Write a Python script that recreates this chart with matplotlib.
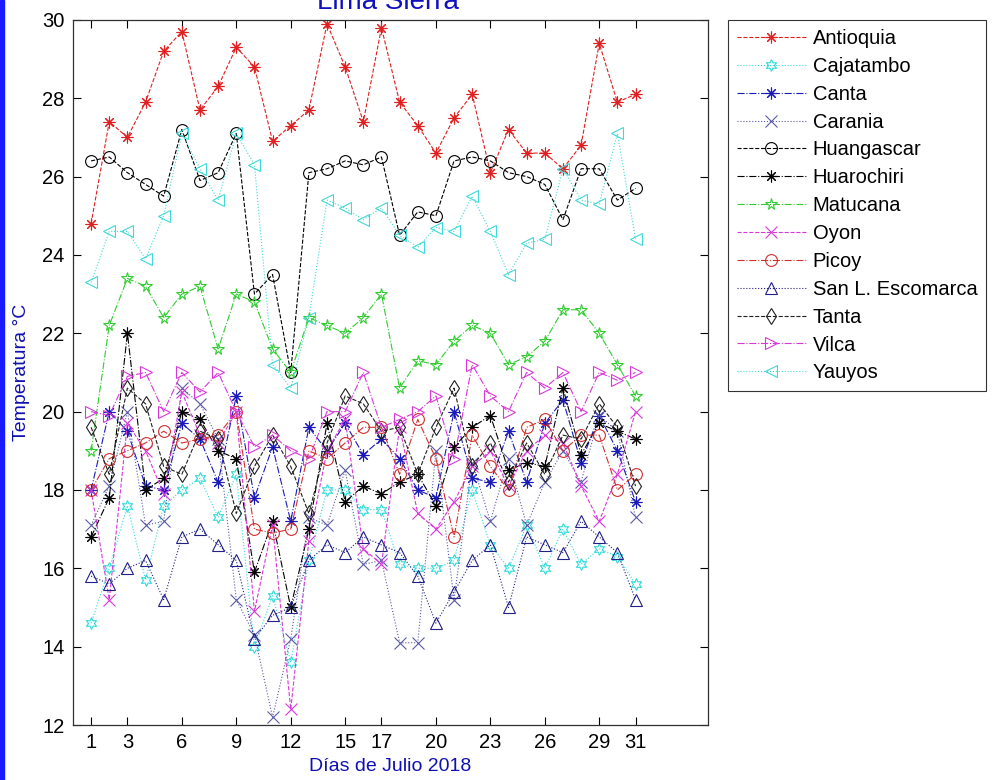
import numpy as np
import matplotlib
matplotlib.use("Agg")
import matplotlib.pyplot as plt
from matplotlib.patches import Rectangle

plt.rcParams['font.family'] = ['Liberation Sans', 'DejaVu Sans']

# Data
days = list(range(1, 32))
xticks = [1, 3, 6, 9, 12, 15, 17, 20, 23, 26, 29, 31]

antioquia = [24.8, 27.4, 27.0, 27.9, 29.2, 29.7, 27.7, 28.3, 29.3, 28.8, 26.9, 27.3, 27.7, 29.9, 28.8, 27.4,
             29.8, 27.9, 27.3, 26.6, 27.5, 28.1, 26.1, 27.2, 26.6, 26.6, 26.2, 26.8, 29.4, 27.9, 28.1]
cajatambo = [14.6, 16.0, 17.6, 15.7, 17.6, 18.0, 18.3, 17.3, 18.4, 14.0, 15.3, 13.6, 16.2, 18.0, 18.0, 17.5,
             17.5, 16.1, 16.0, 16.0, 16.2, 18.0, 16.6, 16.0, 17.1, 16.0, 17.0, 16.1, 16.5, 16.3, 15.6]
canta = [18.0, 20.0, 19.5, 18.1, 18.0, 19.7, 19.3, 18.2, 20.4, 17.8, 19.1, 17.2, 19.6, 19.0, 19.7, 18.9,
         19.3, 18.8, 18.0, 17.8, 20.0, 18.3, 18.2, 19.5, 18.2, 19.7, 20.3, 18.7, 19.9, 19.0, 17.7]
carania = [17.1, 18.1, 20.0, 17.1, 17.2, 20.6, 20.2, 19.3, 15.2, 14.3, 12.2, 14.2, 17.3, 17.1, 18.5, 16.1,
           16.2, 14.1, 14.1, 19.0, 15.2, 18.7, 17.2, 18.8, 17.1, 18.2, 19.0, 18.2, 19.9, 19.5, 17.3]
huangascar = [26.4, 26.5, 26.1, 25.8, 25.5, 27.2, 25.9, 26.1, 27.1, 23.0, 23.5, 21.0, 26.1, 26.2, 26.4, 26.3,
              26.5, 24.5, 25.1, 25.0, 26.4, 26.5, 26.4, 26.1, 26.0, 25.8, 24.9, 26.2, 26.2, 25.4, 25.7]
huarochiri = [16.8, 17.8, 22.0, 18.0, 18.3, 20.0, 19.8, 19.0, 18.8, 15.9, 17.2, 15.0, 17.0, 19.7, 17.7, 18.1,
              17.9, 18.2, 18.4, 17.6, 19.1, 19.6, 19.9, 18.5, 18.7, 18.6, 20.6, 18.9, 19.7, 19.5, 19.3]
matucana = [19.0, 22.2, 23.4, 23.2, 22.4, 23.0, 23.2, 21.6, 23.0, 22.8, 21.6, 21.0, 22.4, 22.2, 22.0, 22.4,
            23.0, 20.6, 21.3, 21.2, 21.8, 22.2, 22.0, 21.2, 21.4, 21.8, 22.6, 22.6, 22.0, 21.2, 20.4]
oyon = [18.0, 15.2, 19.7, 19.0, 17.9, 20.5, 19.4, 19.2, 20.0, 14.9, 17.1, 12.4, 16.7, 19.0, 19.8, 16.5,
        16.1, 19.6, 17.4, 17.0, 17.7, 18.6, 19.0, 18.1, 19.0, 19.4, 19.2, 18.1, 17.2, 18.4, 20.0]
picoy = [18.0, 18.8, 19.0, 19.2, 19.5, 19.2, 19.3, 19.4, 20.0, 17.0, 16.9, 17.0, 19.0, 18.8, 19.2, 19.6,
         19.6, 18.4, 19.8, 18.8, 16.8, 19.4, 18.6, 18.0, 19.6, 19.8, 19.0, 19.4, 19.4, 18.0, 18.4]
escomarca = [15.8, 15.6, 16.0, 16.2, 15.2, 16.8, 17.0, 16.6, 16.2, 14.2, 14.8, 15.0, 16.2, 16.6, 16.4, 16.8,
             16.6, 16.4, 15.8, 14.6, 15.4, 16.2, 16.6, 15.0, 16.8, 16.6, 16.4, 17.2, 16.8, 16.4, 15.2]
tanta = [19.6, 18.4, 20.6, 20.2, 18.6, 18.4, 19.5, 19.3, 17.4, 18.6, 19.4, 18.6, 17.4, 19.2, 20.4, 20.2,
         19.5, 19.6, 18.4, 19.6, 20.6, 18.6, 19.2, 18.2, 19.2, 18.4, 19.4, 19.3, 20.2, 19.6, 18.1]
vilca = [20.0, 19.9, 20.9, 21.0, 20.0, 21.0, 20.5, 21.0, 20.0, 19.1, 19.4, 19.0, 18.8, 20.0, 20.0, 21.0,
         19.6, 19.8, 20.0, 20.4, 18.8, 21.2, 20.4, 20.0, 21.0, 20.6, 21.0, 20.0, 21.0, 20.8, 21.0]
yauyos = [23.3, 24.6, 24.6, 23.9, 25.0, 27.1, 26.2, 25.4, 27.1, 26.3, 21.2, 20.6, 22.4, 25.4, 25.2, 24.9,
          25.2, 24.5, 24.2, 24.7, 24.6, 25.5, 24.6, 23.5, 24.3, 24.4, 26.2, 25.4, 25.3, 27.1, 24.4]

asterisk = (8, 2, 0)
hexagram = (6, 1, 0)

series = [
    ('Antioquia', antioquia, '#e02020', '--', asterisk),
    ('Cajatambo', cajatambo, '#30dada', ':', hexagram),
    ('Canta', canta, '#1a1ab8', '-.', asterisk),
    ('Carania', carania, '#5a5aa8', ':', 'x'),
    ('Huangascar', huangascar, '#000000', '--', 'o'),
    ('Huarochiri', huarochiri, '#000000', '-.', asterisk),
    ('Matucana', matucana, '#30cc30', '-.', '*'),
    ('Oyon', oyon, '#d838d8', '--', 'x'),
    ('Picoy', picoy, '#d03030', '-.', 'o'),
    ('San L. Escomarca', escomarca, '#202088', ':', '^'),
    ('Tanta', tanta, '#202020', '--', 'd'),
    ('Vilca', vilca, '#d838d8', '-.', '>'),
    ('Yauyos', yauyos, '#40d8d8', ':', '<'),
]

fig = plt.figure(figsize=(9.94, 7.8), dpi=100)
ax = fig.add_axes([0.0734, 0.0705, 0.639, 0.904])

for name, vals, col, ls, mk in series:
    ax.plot(days, vals, color=col, linestyle=ls, linewidth=0.8, marker=mk,
            markersize=8.5, markerfacecolor='none', markeredgecolor=col,
            markeredgewidth=0.8, label=name)

ax.set_xlim(0, 35)
ax.set_ylim(12, 30)
ax.set_xticks(xticks)
ax.set_yticks(np.arange(12, 31, 2))
ax.tick_params(direction='in', top=True, right=True, labelsize=14.5, length=6, width=0.8, pad=6)
for s in ax.spines.values():
    s.set_linewidth(0.9)
    s.set_color('#303030')

ax.set_xlabel('Días de Julio 2018', color='#1010b0', fontsize=14, labelpad=4)
ax.set_ylabel('Temperatura °C', color='#1010b0', fontsize=14, labelpad=9)

fig.text(0.390, 0.989, 'Lima Sierra', color='#1010c0', fontsize=20,
         ha='center', va='baseline')

leg = fig.legend(loc='upper left', bbox_to_anchor=(0.7324, 0.9744), fontsize=14.5,
                 frameon=True, fancybox=False, handlelength=3.4, labelspacing=0.44,
                 borderpad=0.45, handletextpad=0.35, borderaxespad=0)
leg.get_frame().set_edgecolor('black')
leg.get_frame().set_linewidth(0.8)

fig.patches.append(Rectangle((0, 0), 0.004, 1, transform=fig.transFigure,
                             color='#1a1aff', zorder=10))

fig.savefig('out.png', dpi=100)
